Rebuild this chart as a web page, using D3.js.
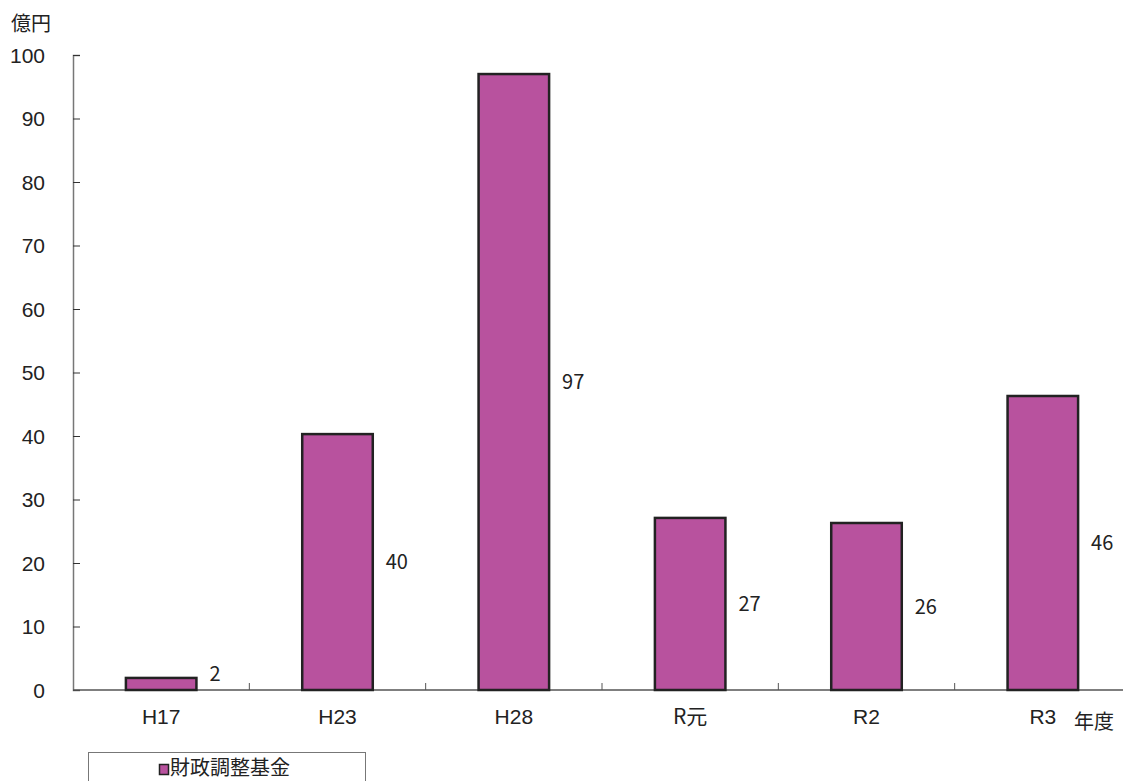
<!DOCTYPE html>
<html>
<head>
<meta charset="utf-8">
<script src="https://cdn.jsdelivr.net/npm/d3@7"></script>
<style>
  body { margin: 0; background: #fff; overflow: hidden; }
  text { font-family: "Noto Sans CJK JP", "DejaVu Sans", sans-serif; fill: #222; }
</style>
</head>
<body>
<div id="chart"></div>
<script>
// Data
const categories = ["H17", "H23", "H28", "R元", "R2", "R3"];
const values = [1.9, 40.3, 97.0, 27.1, 26.3, 46.3];
const yTicks = [0, 10, 20, 30, 40, 50, 60, 70, 80, 90, 100];
const seriesName = "財政調整基金";

// Dimensions (plot area runs slightly past the right edge, as in the original)
const dimensions = {
  width: 1123,
  height: 781,
  margin: { top: 55, right: -8, bottom: 91, left: 73 },
};
dimensions.boundedWidth = dimensions.width - dimensions.margin.left - dimensions.margin.right;
dimensions.boundedHeight = dimensions.height - dimensions.margin.top - dimensions.margin.bottom;

const svg = d3.select("#chart").append("svg")
  .attr("width", dimensions.width)
  .attr("height", dimensions.height);

const bounds = svg.append("g")
  .attr("transform", `translate(${dimensions.margin.left},${dimensions.margin.top})`);

// Scales
const xScale = d3.scaleBand()
  .domain(categories)
  .range([0, dimensions.boundedWidth])
  .paddingInner(0.6)
  .paddingOuter(0.3);
const yScale = d3.scaleLinear()
  .domain([0, 100])
  .range([dimensions.boundedHeight, 0]);

// Y axis (ticks point inward)
const yAxis = bounds.append("g")
  .call(d3.axisRight(yScale).tickValues(yTicks).tickSize(7).tickFormat(""));
yAxis.select(".domain").attr("stroke", "#777").attr("stroke-width", 1.5);
yAxis.selectAll(".tick line").attr("stroke", "#333");

bounds.selectAll(".y-label")
  .data(yTicks)
  .join("text")
  .attr("class", "y-label")
  .attr("x", -28)
  .attr("y", (d) => yScale(d))
  .attr("dy", "0.36em")
  .attr("text-anchor", "end")
  .style("font-size", "21px")
  .style("font-family", "Liberation Sans, Arial, sans-serif")
  .text((d) => d);

// X axis line with boundary ticks
const boundaries = d3.range(1, categories.length).map((i) => i * dimensions.boundedWidth / categories.length);
bounds.append("line")
  .attr("x1", 0).attr("x2", dimensions.boundedWidth)
  .attr("y1", dimensions.boundedHeight).attr("y2", dimensions.boundedHeight)
  .attr("stroke", "#555").attr("stroke-width", 1.5);
bounds.selectAll(".x-tick")
  .data(boundaries)
  .join("line")
  .attr("class", "x-tick")
  .attr("x1", (d) => d).attr("x2", (d) => d)
  .attr("y1", dimensions.boundedHeight - 7).attr("y2", dimensions.boundedHeight)
  .attr("stroke", "#555");

bounds.selectAll(".x-label")
  .data(categories)
  .join("text")
  .attr("class", "x-label")
  .attr("x", (d) => xScale(d) + xScale.bandwidth() / 2)
  .attr("y", dimensions.boundedHeight + 34)
  .attr("text-anchor", "middle")
  .style("font-size", "21px")
  .style("font-family", (d) => d === "R元" ? "Noto Sans CJK JP, sans-serif" : "Liberation Sans, Arial, sans-serif")
  .text((d) => d);

// Bars
bounds.selectAll(".bar")
  .data(values)
  .join("rect")
  .attr("class", "bar")
  .attr("x", (d, i) => xScale(categories[i]))
  .attr("y", (d) => yScale(d))
  .attr("width", xScale.bandwidth())
  .attr("height", (d) => yScale(0) - yScale(d))
  .attr("fill", "#B8529E")
  .attr("stroke", "#222")
  .attr("stroke-width", 2.5);

// Value labels
bounds.selectAll(".value-label")
  .data(values)
  .join("text")
  .attr("class", "value-label")
  .attr("x", (d, i) => xScale(categories[i]) + xScale.bandwidth() + 13)
  .attr("y", (d) => (yScale(d) + yScale(0)) / 2 - (d < 5 ? 10 : 0))
  .attr("dy", "0.36em")
  .style("font-size", "20px")
  .text((d) => Math.round(d));

// Unit labels
svg.append("text")
  .attr("x", 11).attr("y", 31)
  .style("font-size", "20px")
  .text("億円");
svg.append("text")
  .attr("x", 1074).attr("y", 729)
  .style("font-size", "20px")
  .text("年度");

// Legend
const legend = svg.append("g");
legend.append("rect")
  .attr("x", 88.5).attr("y", 752.5)
  .attr("width", 277).attr("height", 40)
  .attr("fill", "#fff").attr("stroke", "#777");
legend.append("rect")
  .attr("x", 159.5).attr("y", 764.5)
  .attr("width", 9).attr("height", 10)
  .attr("fill", "#B8529E").attr("stroke", "#222").attr("stroke-width", 1.5);
legend.append("text")
  .attr("x", 170).attr("y", 775)
  .style("font-size", "20px")
  .text(seriesName);
</script>
</body>
</html>
